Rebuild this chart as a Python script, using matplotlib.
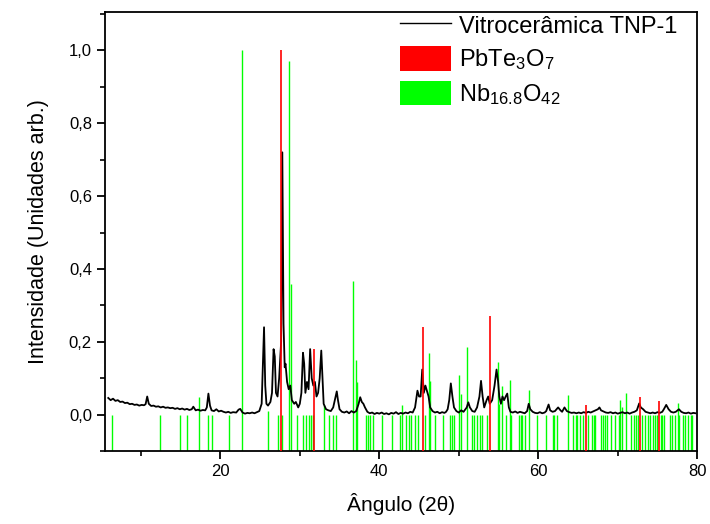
import matplotlib
matplotlib.use("Agg")
import matplotlib.pyplot as plt
from matplotlib.lines import Line2D
from matplotlib.patches import Patch
from matplotlib.ticker import MultipleLocator

plt.rcParams["font.family"] = ["Liberation Sans", "DejaVu Sans"]
plt.rcParams["mathtext.default"] = "regular"

# measured XRD pattern (black curve), (2theta, intensity) pairs
xrd_points = [
    (5.9, 0.046), (6.2, 0.040), (6.5, 0.044), (6.8, 0.038), (7.1, 0.040),
    (7.4, 0.035), (7.7, 0.036), (8.0, 0.032), (8.3, 0.033), (8.6, 0.029),
    (8.9, 0.030), (9.2, 0.027), (9.5, 0.028), (9.8, 0.025), (10.1, 0.027),
    (10.4, 0.026), (10.6, 0.029), (10.8, 0.050), (11.0, 0.030), (11.3, 0.024),
    (11.6, 0.025), (11.9, 0.022), (12.2, 0.023), (12.5, 0.020), (12.8, 0.022),
    (13.1, 0.019), (13.4, 0.020), (13.7, 0.018), (14.0, 0.019), (14.3, 0.016),
    (14.6, 0.018), (14.9, 0.015), (15.2, 0.017), (15.5, 0.014), (15.8, 0.016),
    (16.1, 0.013), (16.4, 0.015), (16.6, 0.022), (16.9, 0.012), (17.2, 0.014),
    (17.5, 0.011), (17.8, 0.013), (18.1, 0.012), (18.3, 0.020), (18.5, 0.058),
    (18.7, 0.025), (18.9, 0.012), (19.2, 0.010), (19.5, 0.015), (19.8, 0.009),
    (20.1, 0.011), (20.4, 0.008), (20.7, 0.006), (21.0, 0.008), (21.3, 0.005),
    (21.6, 0.007), (22.0, 0.006), (22.3, 0.014), (22.5, 0.016), (22.8, 0.006),
    (23.1, 0.003), (23.4, 0.005), (23.7, 0.004), (24.0, 0.006), (24.3, 0.004),
    (24.6, 0.007), (24.9, 0.010), (25.2, 0.030), (25.35, 0.140), (25.5, 0.240),
    (25.65, 0.080), (25.8, 0.030), (26.0, 0.025), (26.3, 0.035), (26.5, 0.060),
    (26.7, 0.180), (26.85, 0.160), (27.0, 0.060), (27.2, 0.050), (27.4, 0.100),
    (27.65, 0.200), (27.8, 0.720), (27.95, 0.250), (28.1, 0.130), (28.2, 0.140),
    (28.4, 0.090), (28.6, 0.070), (28.8, 0.080), (29.0, 0.040), (29.3, 0.030),
    (29.5, 0.035), (29.8, 0.020), (30.0, 0.030), (30.2, 0.060), (30.4, 0.170),
    (30.55, 0.140), (30.7, 0.060), (30.9, 0.090), (31.1, 0.070), (31.3, 0.180),
    (31.5, 0.100), (31.7, 0.080), (31.9, 0.090), (32.1, 0.050), (32.3, 0.060),
    (32.5, 0.100), (32.7, 0.176), (32.85, 0.100), (33.0, 0.030), (33.3, 0.015),
    (33.6, 0.012), (33.9, 0.010), (34.2, 0.020), (34.5, 0.050), (34.65, 0.064),
    (34.8, 0.040), (35.0, 0.015), (35.3, 0.008), (35.6, 0.006), (35.9, 0.009),
    (36.2, 0.004), (36.5, 0.010), (36.8, 0.006), (37.1, 0.010), (37.4, 0.030),
    (37.6, 0.048), (37.8, 0.035), (38.0, 0.030), (38.2, 0.020), (38.5, 0.008),
    (38.8, 0.004), (39.1, 0.006), (39.4, 0.002), (39.7, 0.005), (40.0, 0.003),
    (40.3, 0.006), (40.6, 0.002), (40.9, 0.004), (41.2, 0.001), (41.5, 0.005),
    (41.8, 0.003), (42.1, 0.007), (42.4, 0.002), (42.7, 0.005), (43.0, 0.003),
    (43.3, 0.006), (43.6, 0.004), (43.9, 0.008), (44.2, 0.006), (44.5, 0.020),
    (44.8, 0.066), (45.0, 0.050), (45.2, 0.050), (45.4, 0.124), (45.6, 0.060),
    (45.8, 0.080), (46.0, 0.065), (46.2, 0.050), (46.4, 0.020), (46.7, 0.010),
    (47.0, 0.006), (47.3, 0.008), (47.6, 0.004), (47.9, 0.007), (48.2, 0.005),
    (48.4, 0.008), (48.6, 0.015), (48.8, 0.040), (49.0, 0.086), (49.2, 0.050),
    (49.4, 0.020), (49.7, 0.010), (50.0, 0.006), (50.3, 0.012), (50.6, 0.008),
    (51.0, 0.020), (51.2, 0.034), (51.4, 0.020), (51.7, 0.010), (52.0, 0.008),
    (52.3, 0.020), (52.6, 0.050), (52.8, 0.093), (53.0, 0.050), (53.2, 0.020),
    (53.5, 0.040), (53.7, 0.050), (53.9, 0.030), (54.2, 0.040), (54.5, 0.080),
    (54.75, 0.124), (54.95, 0.090), (55.1, 0.050), (55.3, 0.030), (55.5, 0.050),
    (55.7, 0.040), (55.9, 0.050), (56.1, 0.058), (56.3, 0.020), (56.5, 0.008),
    (56.8, 0.006), (57.1, 0.009), (57.4, 0.005), (57.7, 0.008), (58.0, 0.006),
    (58.3, 0.004), (58.6, 0.010), (58.8, 0.030), (59.0, 0.015), (59.3, 0.008),
    (59.6, 0.005), (59.9, 0.004), (60.2, 0.007), (60.5, 0.004), (60.8, 0.006),
    (61.0, 0.010), (61.3, 0.028), (61.5, 0.012), (61.8, 0.008), (62.1, 0.010),
    (62.5, 0.020), (62.8, 0.012), (63.0, 0.008), (63.3, 0.020), (63.6, 0.010),
    (63.9, 0.007), (64.2, 0.005), (64.5, 0.006), (64.8, 0.004), (65.1, 0.006),
    (65.4, 0.004), (65.7, 0.007), (66.0, 0.005), (66.3, 0.008), (66.6, 0.006),
    (66.9, 0.009), (67.2, 0.012), (67.5, 0.015), (67.7, 0.020), (67.9, 0.012),
    (68.2, 0.009), (68.5, 0.006), (68.8, 0.005), (69.1, 0.007), (69.4, 0.004),
    (69.7, 0.006), (70.0, 0.003), (70.3, 0.005), (70.6, 0.007), (70.9, 0.004),
    (71.2, 0.006), (71.5, 0.003), (71.8, 0.006), (72.1, 0.008), (72.4, 0.012),
    (72.7, 0.031), (72.9, 0.020), (73.2, 0.015), (73.5, 0.008), (73.8, 0.006),
    (74.1, 0.004), (74.4, 0.006), (74.7, 0.004), (75.0, 0.007), (75.3, 0.005),
    (75.6, 0.008), (75.8, 0.015), (76.1, 0.027), (76.4, 0.015), (76.7, 0.008),
    (77.0, 0.006), (77.3, 0.008), (77.7, 0.015), (78.0, 0.008), (78.3, 0.005),
    (78.6, 0.004), (78.9, 0.006), (79.2, 0.003), (79.5, 0.005), (79.8, 0.004),
]
xrd_x = [p[0] for p in xrd_points]
xrd_y = [p[1] for p in xrd_points]

# PbTe3O7 reference lines
pb_x = [27.6, 31.8, 45.5, 53.9, 66.05, 72.8, 75.2]
pb_h = [1.0, 0.18, 0.24, 0.27, 0.027, 0.048, 0.038]

# Nb16.8O42 reference lines: lines that only reach the zero level, then taller ones
nb_small_x = [6.4, 12.4, 14.9, 15.8, 18.45, 19.0, 21.05, 27.2, 27.75, 29.7,
              30.4, 30.8, 31.15, 31.4, 31.6, 33.7, 34.2, 34.6, 38.3, 38.55,
              38.8, 39.15, 40.3, 41.55, 42.6, 43.35, 43.8, 44.05, 44.5, 44.9,
              45.8, 47.0, 48.05, 48.9, 49.1, 49.4, 51.7, 51.95, 52.3, 52.7,
              52.95, 53.6, 55.9, 56.6, 57.6, 57.8, 58.0, 58.3, 59.8, 61.0,
              61.8, 62.0, 62.4, 64.4, 64.7, 64.85, 65.25, 65.6, 66.25, 66.7,
              67.0, 67.2, 67.9, 68.1, 68.4, 68.6, 69.1, 69.65, 70.15, 71.7,
              72.0, 72.25, 72.6, 73.1, 73.4, 73.8, 74.1, 74.4, 74.7, 75.0,
              75.4, 75.6, 75.8, 76.6, 76.8, 77.2, 77.7, 78.2, 78.5, 78.9,
              79.2, 79.4]
nb_tall_x = [17.3, 22.77, 26.0, 28.65, 28.95, 33.05, 36.7, 37.05, 37.2, 42.9,
             46.25, 46.4, 50.05, 50.25, 51.0, 54.9, 55.05, 55.45, 56.4, 58.8,
             63.8, 70.3, 70.5, 71.1, 77.6]
nb_tall_h = [0.05, 1.0, 0.01, 0.97, 0.36, 0.027, 0.368, 0.151, 0.09, 0.027,
             0.17, 0.093, 0.11, 0.058, 0.185, 0.146, 0.03, 0.08, 0.096, 0.068,
             0.054, 0.04, 0.02, 0.06, 0.033]

y_ticks = [0.0, 0.2, 0.4, 0.6, 0.8, 1.0]
y_tick_labels = ["0,0", "0,2", "0,4", "0,6", "0,8", "1,0"]
x_ticks = [20, 40, 60, 80]

fig = plt.figure(figsize=(7.1, 5.24), dpi=100)
ax = fig.add_axes([0.148, 0.139, 0.834, 0.838])

ymin = -0.1
ax.vlines(nb_small_x, ymin, 0.0, color="#00ff00", linewidth=1.0, zorder=1)
ax.vlines(nb_tall_x, ymin, nb_tall_h, color="#00ff00", linewidth=1.0, zorder=1)
ax.plot(xrd_x, xrd_y, color="black", linewidth=1.3, zorder=2)
ax.vlines(pb_x, ymin, pb_h, color="#ff0000", linewidth=1.2, zorder=3)

ax.set_xlim(5.5, 80)
ax.set_ylim(ymin, 1.105)

ax.set_xticks(x_ticks)
ax.xaxis.set_minor_locator(MultipleLocator(10))
ax.set_yticks(y_ticks)
ax.set_yticklabels(y_tick_labels)
ax.yaxis.set_minor_locator(MultipleLocator(0.1))
ax.tick_params(which="major", direction="out", length=6, width=1.3, labelsize=12)
ax.tick_params(which="minor", direction="out", length=3.5, width=1.2)
ax.tick_params(top=False, right=False, which="both")
for s in ax.spines.values():
    s.set_linewidth(1.3)

ax.set_xlabel("Ângulo (2θ)", fontsize=15, labelpad=10)
ax.set_ylabel("Intensidade (Unidades arb.)", fontsize=15.5, labelpad=14)

handles = [
    Line2D([], [], color="black", linewidth=1.0),
    Patch(facecolor="#ff0000", edgecolor="none"),
    Patch(facecolor="#00ff00", edgecolor="none"),
]
labels = ["Vitrocerâmica TNP-1", "PbTe$_3$O$_7$", "Nb$_{16.8}$O$_{42}$"]
fig.legend(handles, labels, loc="upper left", frameon=False, fontsize=17,
           handlelength=2.15, handleheight=1.2, handletextpad=0.35,
           labelspacing=0.35, borderpad=0, borderaxespad=0,
           bbox_to_anchor=(400 / 710, 1 - 13 / 524))

fig.savefig("out.png", dpi=100)
